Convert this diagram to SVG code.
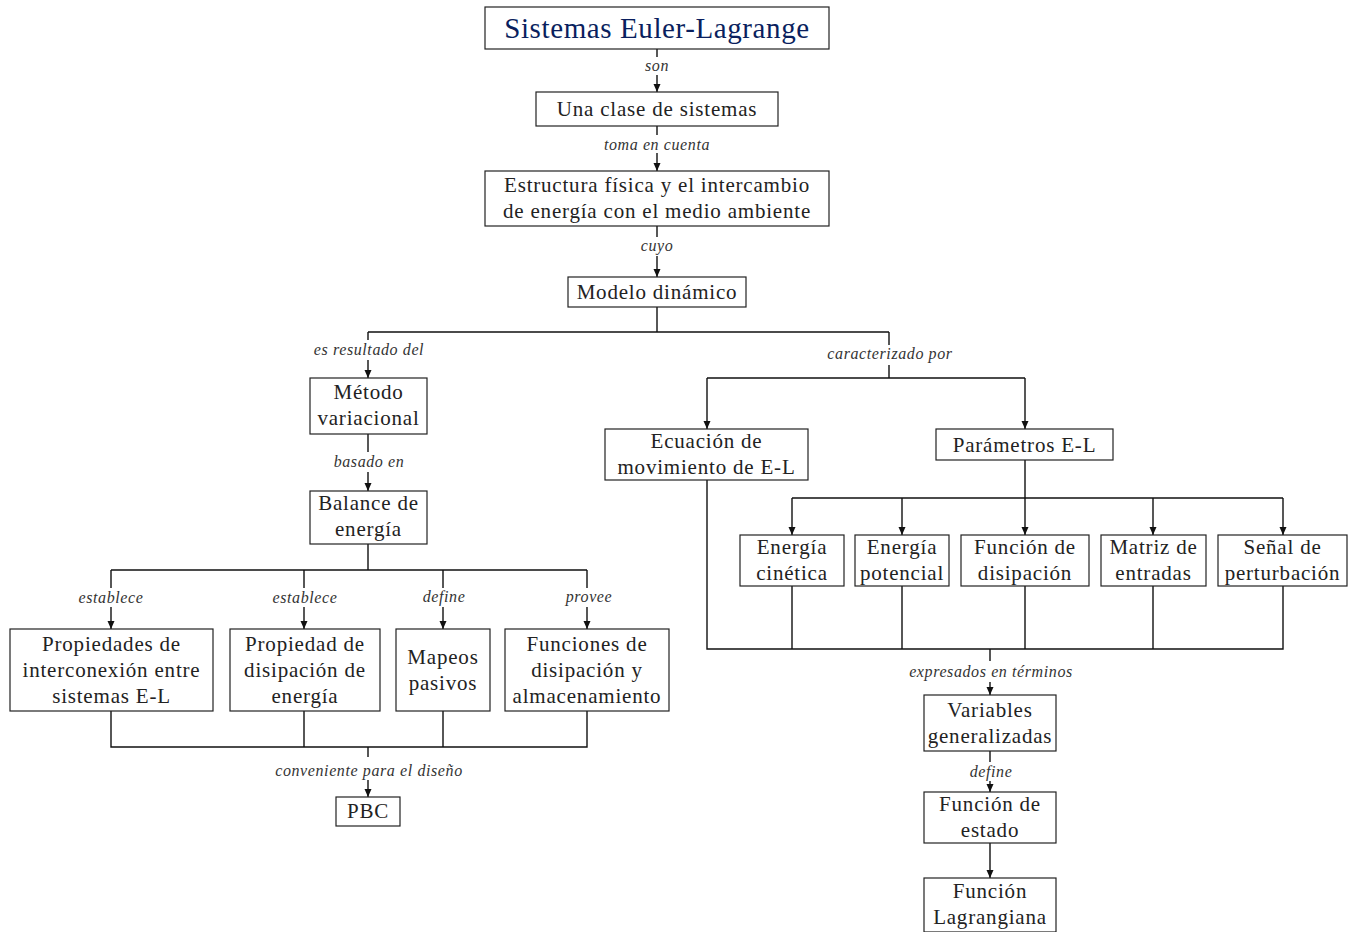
<svg xmlns="http://www.w3.org/2000/svg" width="1361" height="932" viewBox="0 0 1361 932">
<style>
.bx{fill:#fff;stroke:#222;stroke-width:1.2}
.t{font-family:"Liberation Serif","DejaVu Serif",serif;font-size:21px;letter-spacing:0.8px;fill:#222;text-anchor:middle}
.ttl{font-family:"Liberation Serif","DejaVu Serif",serif;font-size:29px;letter-spacing:0.6px;fill:#0a1f5e;text-anchor:middle}
.lb{font-family:"Liberation Serif","DejaVu Serif",serif;font-size:16px;letter-spacing:0.6px;font-style:italic;fill:#333;text-anchor:middle}
.ln{fill:none;stroke:#111;stroke-width:1.4}
.ar{fill:none;stroke:#111;stroke-width:1.4;marker-end:url(#ah)}
</style>
<defs>
<marker id="ah" markerUnits="userSpaceOnUse" markerWidth="9" markerHeight="8" refX="8" refY="3.5" orient="auto">
<path d="M0,0 L8,3.5 L0,7 z" fill="#111"/>
</marker>
</defs>
<rect width="1361" height="932" fill="#fff"/>
<g id="connectors">
<path class="ln" d="M657 49V57"/><path class="ar" d="M657 75V92"/>
<path class="ln" d="M657 126V135"/><path class="ar" d="M657 153V171"/>
<path class="ln" d="M657 226V237"/><path class="ar" d="M657 256V277"/>
<path class="ln" d="M657 307V332M368 332H889M368 332V340M889 332V345M889 365V378M707 378H1025"/>
<path class="ar" d="M368 360V378"/>
<path class="ar" d="M707 378V429"/><path class="ar" d="M1025 378V429"/>
<path class="ln" d="M368 434V452"/><path class="ar" d="M368 472V491"/>
<path class="ln" d="M368 544V570M111 570H587M111 570V588M304 570V588M443 570V588M587 570V588"/>
<path class="ar" d="M111 607V629"/><path class="ar" d="M304 607V629"/><path class="ar" d="M443 607V629"/><path class="ar" d="M587 607V629"/>
<path class="ln" d="M111 711V747H587V711M304 711V747M443 711V747M368 747V757"/>
<path class="ar" d="M368 780V797"/>
<path class="ln" d="M1025 460V498M792 498H1283"/>
<path class="ar" d="M792 498V535"/><path class="ar" d="M902 498V535"/><path class="ar" d="M1025 498V535"/><path class="ar" d="M1153 498V535"/><path class="ar" d="M1283 498V535"/>
<path class="ln" d="M707 480V649H1283V586M792 586V649M902 586V649M1025 586V649M1153 586V649M990 649V661"/>
<path class="ar" d="M990 682V695"/>
<path class="ln" d="M990 751V762"/><path class="ar" d="M990 781V792"/>
<path class="ar" d="M990 843V878"/>
<text class="lb" x="657" y="71">son</text>
<text class="lb" x="657" y="150">toma en cuenta</text>
<text class="lb" x="657" y="251">cuyo</text>
<text class="lb" x="369" y="355">es resultado del</text>
<text class="lb" x="890" y="359">caracterizado por</text>
<text class="lb" x="369" y="467">basado en</text>
<text class="lb" x="111" y="603">establece</text>
<text class="lb" x="305" y="603">establece</text>
<text class="lb" x="444" y="602">define</text>
<text class="lb" x="589" y="602">provee</text>
<text class="lb" x="369" y="776">conveniente para el diseño</text>
<text class="lb" x="991" y="677">expresados en términos</text>
<text class="lb" x="991" y="777">define</text>
</g>
<g id="n-title"><rect class="bx" x="485" y="7" width="344" height="42"/><text class="ttl" x="657" y="38">Sistemas Euler-Lagrange</text></g>
<g id="n-clase"><rect class="bx" x="536" y="92" width="242" height="34"/><text class="t" x="657" y="116">Una clase de sistemas</text></g>
<g id="n-estructura"><rect class="bx" x="485" y="171" width="344" height="55"/><text class="t" x="657" y="192">Estructura física y el intercambio</text><text class="t" x="657" y="218">de energía con el medio ambiente</text></g>
<g id="n-modelo"><rect class="bx" x="568" y="277" width="178" height="30"/><text class="t" x="657" y="299">Modelo dinámico</text></g>
<g id="n-metodo"><rect class="bx" x="310" y="378" width="117" height="56"/><text class="t" x="368.5" y="399">Método</text><text class="t" x="368.5" y="425">variacional</text></g>
<g id="n-balance"><rect class="bx" x="310" y="491" width="117" height="53"/><text class="t" x="368.5" y="510">Balance de</text><text class="t" x="368.5" y="536">energía</text></g>
<g id="n-interconexion"><rect class="bx" x="10" y="629" width="203" height="82"/><text class="t" x="111.5" y="651">Propiedades de</text><text class="t" x="111.5" y="677">interconexión entre</text><text class="t" x="111.5" y="703">sistemas E-L</text></g>
<g id="n-disipacion"><rect class="bx" x="230" y="629" width="150" height="82"/><text class="t" x="305" y="651">Propiedad de</text><text class="t" x="305" y="677">disipación de</text><text class="t" x="305" y="703">energía</text></g>
<g id="n-mapeos"><rect class="bx" x="396" y="629" width="94" height="82"/><text class="t" x="443" y="664">Mapeos</text><text class="t" x="443" y="690">pasivos</text></g>
<g id="n-funciones"><rect class="bx" x="505" y="629" width="164" height="82"/><text class="t" x="587" y="651">Funciones de</text><text class="t" x="587" y="677">disipación y</text><text class="t" x="587" y="703">almacenamiento</text></g>
<g id="n-pbc"><rect class="bx" x="336" y="797" width="64" height="29"/><text class="t" x="368" y="818">PBC</text></g>
<g id="n-ecuacion"><rect class="bx" x="605" y="429" width="203" height="51"/><text class="t" x="706.5" y="448">Ecuación de</text><text class="t" x="706.5" y="474">movimiento de E-L</text></g>
<g id="n-parametros"><rect class="bx" x="936" y="429" width="177" height="31"/><text class="t" x="1024.5" y="452">Parámetros E-L</text></g>
<g id="n-cinetica"><rect class="bx" x="740" y="535" width="104" height="51"/><text class="t" x="792" y="554">Energía</text><text class="t" x="792" y="580">cinética</text></g>
<g id="n-potencial"><rect class="bx" x="855" y="535" width="94" height="51"/><text class="t" x="902" y="554">Energía</text><text class="t" x="902" y="580">potencial</text></g>
<g id="n-fdisipacion"><rect class="bx" x="961" y="535" width="128" height="51"/><text class="t" x="1025" y="554">Función de</text><text class="t" x="1025" y="580">disipación</text></g>
<g id="n-matriz"><rect class="bx" x="1101" y="535" width="105" height="51"/><text class="t" x="1153.5" y="554">Matriz de</text><text class="t" x="1153.5" y="580">entradas</text></g>
<g id="n-senal"><rect class="bx" x="1218" y="535" width="129" height="51"/><text class="t" x="1282.5" y="554">Señal de</text><text class="t" x="1282.5" y="580">perturbación</text></g>
<g id="n-variables"><rect class="bx" x="924" y="695" width="132" height="56"/><text class="t" x="990" y="717">Variables</text><text class="t" x="990" y="743">generalizadas</text></g>
<g id="n-estado"><rect class="bx" x="924" y="792" width="132" height="51"/><text class="t" x="990" y="811">Función de</text><text class="t" x="990" y="837">estado</text></g>
<g id="n-lagrangiana"><rect class="bx" x="924" y="878" width="132" height="54"/><text class="t" x="990" y="898">Función</text><text class="t" x="990" y="924">Lagrangiana</text></g>
</svg>
